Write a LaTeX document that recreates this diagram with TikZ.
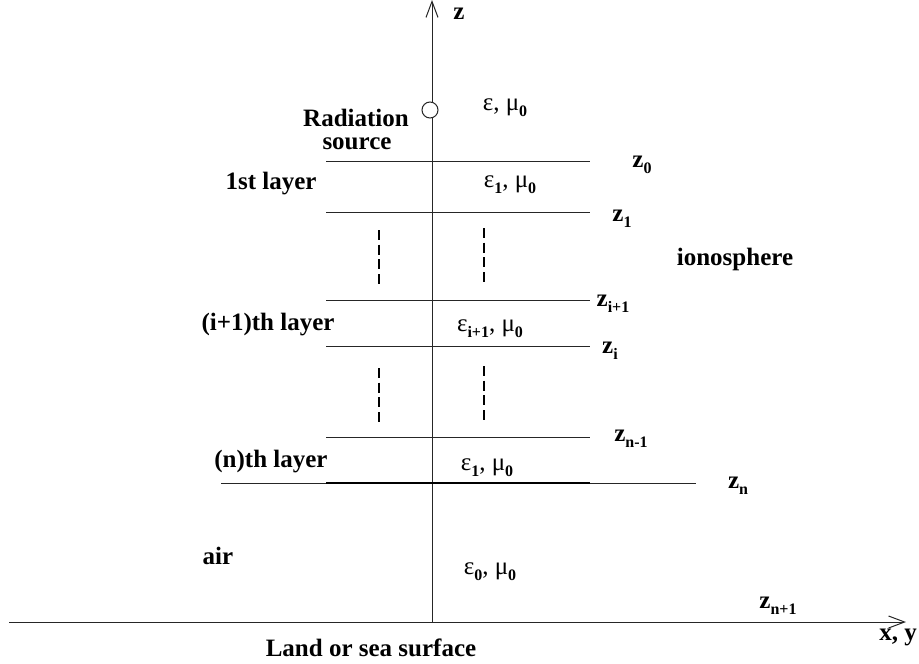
\documentclass[tikz,border=0pt]{standalone}
\usepackage{fontspec}
\setmainfont{Liberation Serif}
\usetikzlibrary{arrows.meta}
\newcommand{\sbx}[1]{\raisebox{-0.25em}{\fontsize{16}{16}\selectfont\bfseries #1}}
\begin{document}
\begin{tikzpicture}[x=1pt,y=-1pt,
  lbl/.style={inner sep=0pt,font=\fontsize{25}{28}\selectfont\bfseries},
  mat/.style={inner sep=0pt,font=\fontsize{25}{28}\selectfont},
  layerline/.style={line width=1pt,draw=black!85},
  axis/.style={line width=1pt,draw=black!85,-{Straight Barb[length=16pt,width=12pt,line width=1pt]}},
  dashline/.style={line width=1.6pt,dash pattern=on 10pt off 4.7pt}]
\useasboundingbox (0,0) rectangle (919,664);
% axes
\coordinate (O) at (432,622);
\coordinate (ztop) at (432,0);
\coordinate (xl) at (9,622);
\coordinate (xr) at (906,622);
\draw[axis] (O) -- (ztop);
\draw[axis] (xl) -- (xr);
% source
\node[circle,draw=black!85,fill=white,line width=1pt,minimum size=16pt,inner sep=0pt] (src) at (430,110) {};
% layer lines
\foreach \n/\y in {a/161,b/212,c/300,d/346,e/437}{
  \coordinate (\n L) at (326,\y);
  \coordinate (\n R) at (590,\y);
  \draw[layerline] (\n L) -- (\n R);
}
\coordinate (fL) at (221,483);
\coordinate (fR) at (696,483);
\coordinate (fl) at (326,483);
\coordinate (fr) at (590,483);
\draw[layerline] (fL) -- (fR);
\draw[line width=1.6pt] (fl) -- (fr);
% dashed
\foreach \n/\x/\ya/\yb in {p/379/230/284,q/484/228/282,r/379/368/423,s/484/366/420}{
  \coordinate (\n1) at (\x,\ya);
  \coordinate (\n2) at (\x,\yb);
  \draw[dashline] (\n1) -- (\n2);
}
% labels
\node[lbl] (zl) at (459,14) {z};
\node[mat] (m0) at (505,108) {ε, μ\sbx{0}};
\node[lbl] (rad) at (356,118) {Radiation};
\node[lbl] (srcl) at (357,144) {source};
\node[lbl] (z0) at (642,165) {z\sbx{0}};
\node[lbl] (l1) at (271,184) {1st layer};
\node[mat] (m1) at (510,185) {ε\sbx{1}, μ\sbx{0}};
\node[lbl] (z1) at (622,219) {z\sbx{1}};
\node[lbl] (iono) at (735,259) {ionosphere};
\node[lbl] (zi1) at (613,304) {z\sbx{i+1}};
\node[lbl] (li) at (268,325) {(i+1)th layer};
\node[mat] (mi) at (490,329) {ε\sbx{i+1}, μ\sbx{0}};
\node[lbl] (zi) at (610,351) {z\sbx{i}};
\node[lbl] (zn1) at (631,439) {z\sbx{n-1}};
\node[lbl] (ln) at (271,462) {(n)th layer};
\node[mat] (mn) at (487,468) {ε\sbx{1}, μ\sbx{0}};
\node[lbl] (zn) at (738,486) {z\sbx{n}};
\node[lbl] (air) at (218,556) {air};
\node[mat] (ma) at (490,572) {ε\sbx{0}, μ\sbx{0}};
\node[lbl] (znp) at (778,606) {z\sbx{n+1}};
\node[lbl] (xy) at (898,637) {x, y};
\node[lbl] (land) at (371,648) {Land or sea surface};
\end{tikzpicture}
\end{document}
